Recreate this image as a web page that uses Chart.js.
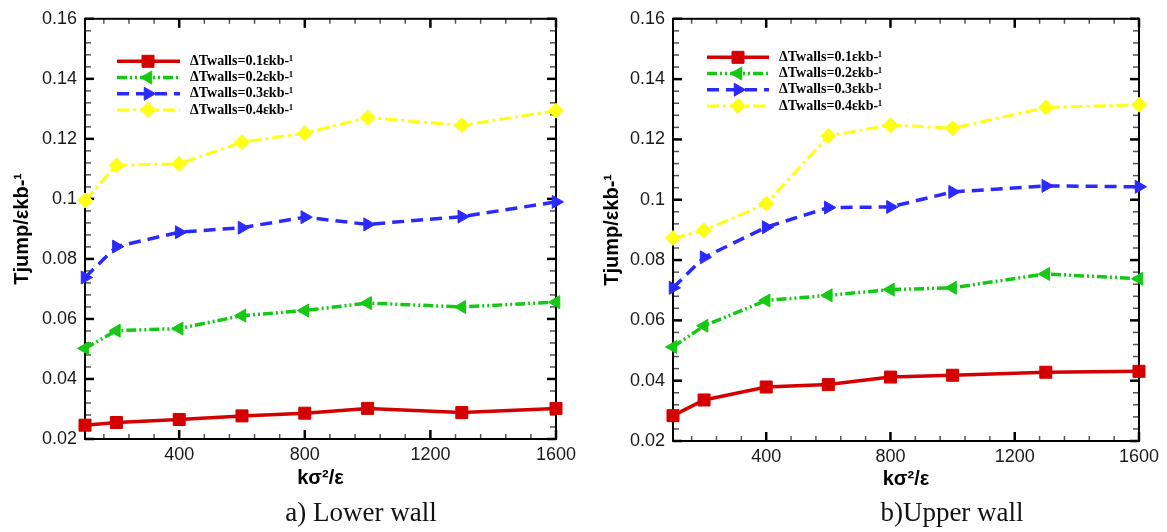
<!DOCTYPE html>
<html>
<head>
<meta charset="utf-8">
<script src="https://cdn.jsdelivr.net/npm/chart.js@4/dist/chart.umd.min.js"></script>
<style>
  body { margin: 0; background: #fff; }
  #wrap { position: relative; width: 1167px; height: 532px; overflow: hidden; }
  canvas { position: absolute; top: 0; }
  #lower { left: 0; }
  #upper { left: 583px; }
  .caption { position: absolute; font-family: "Liberation Serif", serif; font-size: 27px; color: #111;
             transform: translate(-50%, -50%); white-space: nowrap; }
</style>
</head>
<body>
<div id="wrap">
  <canvas id="lower" width="583" height="532"></canvas>
  <canvas id="upper" width="584" height="532"></canvas>
  <div class="caption" style="left:361px; top:512px;">a) Lower wall</div>
  <div class="caption" style="left:952px; top:512px;">b)Upper wall</div>
</div>
<script>
// ---------- Data ----------
const kValues = [100, 200, 400, 600, 800, 1000, 1300, 1600];
const seriesLabels = ['ΔTwalls=0.1εkb-¹', 'ΔTwalls=0.2εkb-¹', 'ΔTwalls=0.3εkb-¹', 'ΔTwalls=0.4εkb-¹'];

// a) lower wall
const lowerDT01 = [0.0246, 0.0255, 0.0265, 0.0277, 0.0286, 0.0302, 0.0288, 0.0302];
const lowerDT02 = [0.0502, 0.0561, 0.0568, 0.0611, 0.0628, 0.0653, 0.0640, 0.0656];
const lowerDT03 = [0.0738, 0.0841, 0.0889, 0.0904, 0.0939, 0.0915, 0.0941, 0.0990];
const lowerDT04 = [0.0995, 0.1112, 0.1117, 0.1189, 0.1219, 0.1271, 0.1245, 0.1294];

// b) upper wall
const upperDT01 = [0.0284, 0.0336, 0.0379, 0.0387, 0.0412, 0.0418, 0.0428, 0.0431];
const upperDT02 = [0.0512, 0.0582, 0.0666, 0.0683, 0.0702, 0.0708, 0.0754, 0.0738];
const upperDT03 = [0.0708, 0.0809, 0.0909, 0.0974, 0.0976, 0.1026, 0.1046, 0.1043];
const upperDT04 = [0.0873, 0.0898, 0.0987, 0.1211, 0.1248, 0.1237, 0.1306, 0.1315];

const xTicks = [400, 800, 1200, 1600];
const xTickLabels = ['400', '800', '1200', '1600'];
const yTicks = [0.02, 0.04, 0.06, 0.08, 0.1, 0.12, 0.14, 0.16];
const yTickLabels = ['0.02', '0.04', '0.06', '0.08', '0.1', '0.12', '0.14', '0.16'];

const xTitle = 'kσ²/ε';
const yTitle = 'Tjump/εkb-¹';

// ---------- Series styles ----------
const seriesStyles = [
    { color: '#d40000', dash: [], pointStyle: 'rect', radius: 8.5, rotation: 0, width: 3.5 },
    { color: '#14c814', dash: [10, 3, 2, 3, 2, 3], pointStyle: 'triangle', radius: 7.5, rotation: -90, width: 3.5 },
    { color: '#2a2aff', dash: [12, 7], pointStyle: 'triangle', radius: 7.5, rotation: 90, width: 3.5 },
    { color: '#ffff14', dash: [12, 4, 3, 4], pointStyle: 'rectRot', radius: 7.5, rotation: 0, width: 3 }
];

function makeDatasets(seriesList) {
    return seriesList.map((values, i) => {
        const s = seriesStyles[i];
        return {
            label: seriesLabels[i],
            data: kValues.map((k, j) => ({ x: k, y: values[j] })),
            borderColor: s.color,
            backgroundColor: s.color,
            borderWidth: s.width,
            borderDash: s.dash,
            pointStyle: s.pointStyle,
            pointRadius: s.radius,
            pointRotation: s.rotation,
            pointBackgroundColor: s.color,
            pointBorderColor: s.color,
            pointBorderWidth: 1,
            tension: 0,
            clip: false
        };
    });
}

// ---------- Plugins ----------
// Tecplot style frame with inward ticks on all four sides
const frameTicks = {
    id: 'frameTicks',
    beforeDatasetsDraw(chart) {
        const { ctx, chartArea: a, scales: { x, y } } = chart;
        const seg = (x1, y1, x2, y2) => { ctx.beginPath(); ctx.moveTo(x1, y1); ctx.lineTo(x2, y2); ctx.stroke(); };
        ctx.save();

        // minor ticks
        ctx.strokeStyle = '#555';
        ctx.lineWidth = 1.5;
        for (let v = 160; v < 1600; v += 80) {
            if (xTicks.includes(v)) continue;
            const px = x.getPixelForValue(v);
            seg(px, a.bottom, px, a.bottom - 5);
            seg(px, a.top, px, a.top + 5);
        }
        for (let i = 1; i < 35; i++) {
            if (i % 5 === 0) continue;
            const py = y.getPixelForValue(0.02 + i * 0.004);
            seg(a.left, py, a.left + 6, py);
            seg(a.right, py, a.right - 6, py);
        }

        // major ticks
        ctx.strokeStyle = '#000';
        ctx.lineWidth = 2.5;
        xTicks.forEach(v => {
            const px = x.getPixelForValue(v);
            seg(px, a.bottom, px, a.bottom - 9);
            seg(px, a.top, px, a.top + 9);
        });
        yTicks.forEach(v => {
            const py = y.getPixelForValue(v);
            seg(a.left, py, a.left + 9, py);
            seg(a.right, py, a.right - 9, py);
        });

        ctx.lineWidth = 2;
        ctx.strokeRect(a.left, a.top, a.width, a.height);
        ctx.restore();
    }
};

// legend drawn inside the plot, upper left
const insideLegend = {
    id: 'insideLegend',
    afterDatasetsDraw(chart, args, opts) {
        const { ctx, chartArea: a } = chart;
        chart.data.datasets.forEach((ds, i) => {
            const y = a.top + opts.top + i * 16.2;
            ctx.save();
            ctx.strokeStyle = ds.borderColor;
            ctx.lineWidth = ds.borderWidth;
            ctx.setLineDash(ds.borderDash);
            ctx.beginPath();
            ctx.moveTo(a.left + opts.lineStart, y);
            ctx.lineTo(a.left + opts.lineEnd, y);
            ctx.stroke();
            ctx.setLineDash([]);
            ctx.fillStyle = ds.pointBackgroundColor;
            ctx.strokeStyle = ds.pointBorderColor;
            ctx.lineWidth = 1;
            Chart.helpers.drawPoint(ctx, {
                pointStyle: ds.pointStyle, radius: ds.pointRadius, rotation: ds.pointRotation, borderWidth: 1
            }, a.left + opts.marker, y);
            ctx.fillStyle = '#000';
            ctx.font = 'bold 14px "Liberation Serif"';
            ctx.textBaseline = 'middle';
            ctx.textAlign = 'left';
            ctx.fillText(ds.label, a.left + opts.text, y);
            ctx.restore();
        });
    }
};

// ---------- Chart builder ----------
function buildChart(canvasId, seriesList, geo) {
    const tickFont = { family: '"Liberation Sans", Arial, sans-serif', size: 18 };
    const titleFont = { family: '"Liberation Sans", Arial, sans-serif', size: 20, weight: 'bold' };
    return new Chart(document.getElementById(canvasId), {
        type: 'line',
        data: { datasets: makeDatasets(seriesList) },
        options: {
            responsive: false,
            animation: false,
            devicePixelRatio: 1,
            layout: { padding: { left: 0, right: geo.right, top: geo.top, bottom: 0 } },
            plugins: {
                legend: { display: false },
                tooltip: { enabled: false },
                insideLegend: geo.legend
            },
            scales: {
                x: {
                    type: 'linear',
                    min: 100,
                    max: 1600,
                    afterBuildTicks: scale => { scale.ticks = xTicks.map(v => ({ value: v })); },
                    afterFit: scale => { scale.height = geo.xHeight; },
                    grid: { display: false, drawTicks: false },
                    border: { display: false },
                    ticks: { font: tickFont, color: '#1a1a1a', padding: 5, maxRotation: 0,
                             callback: (value, index) => xTickLabels[index] },
                    title: { display: true, text: xTitle, font: titleFont, color: '#000',
                             padding: { top: 0, bottom: geo.xTitlePad } }
                },
                y: {
                    type: 'linear',
                    min: 0.02,
                    max: 0.16,
                    afterBuildTicks: scale => { scale.ticks = yTicks.map(v => ({ value: v })); },
                    afterFit: scale => { scale.width = geo.yWidth; },
                    grid: { display: false, drawTicks: false },
                    border: { display: false },
                    ticks: { font: tickFont, color: '#1a1a1a', padding: 8,
                             callback: (value, index) => yTickLabels[index] },
                    title: { display: true, text: yTitle, font: titleFont, color: '#000',
                             padding: { top: geo.yTitlePad, bottom: 0 } }
                }
            }
        },
        plugins: [frameTicks, insideLegend]
    });
}

buildChart('lower', [lowerDT01, lowerDT02, lowerDT03, lowerDT04], {
    right: 27, top: 10, xHeight: 93, yWidth: 85, xTitlePad: 42, yTitlePad: 10,
    legend: { top: 42.5, lineStart: 32, lineEnd: 95, marker: 63, text: 105 }
});

buildChart('upper', [upperDT01, upperDT02, upperDT03, upperDT04], {
    right: 28, top: 14, xHeight: 91, yWidth: 90, xTitlePad: 40.5, yTitlePad: 17,
    legend: { top: 38.5, lineStart: 34, lineEnd: 96, marker: 65, text: 106 }
});
</script>
</body>
</html>
